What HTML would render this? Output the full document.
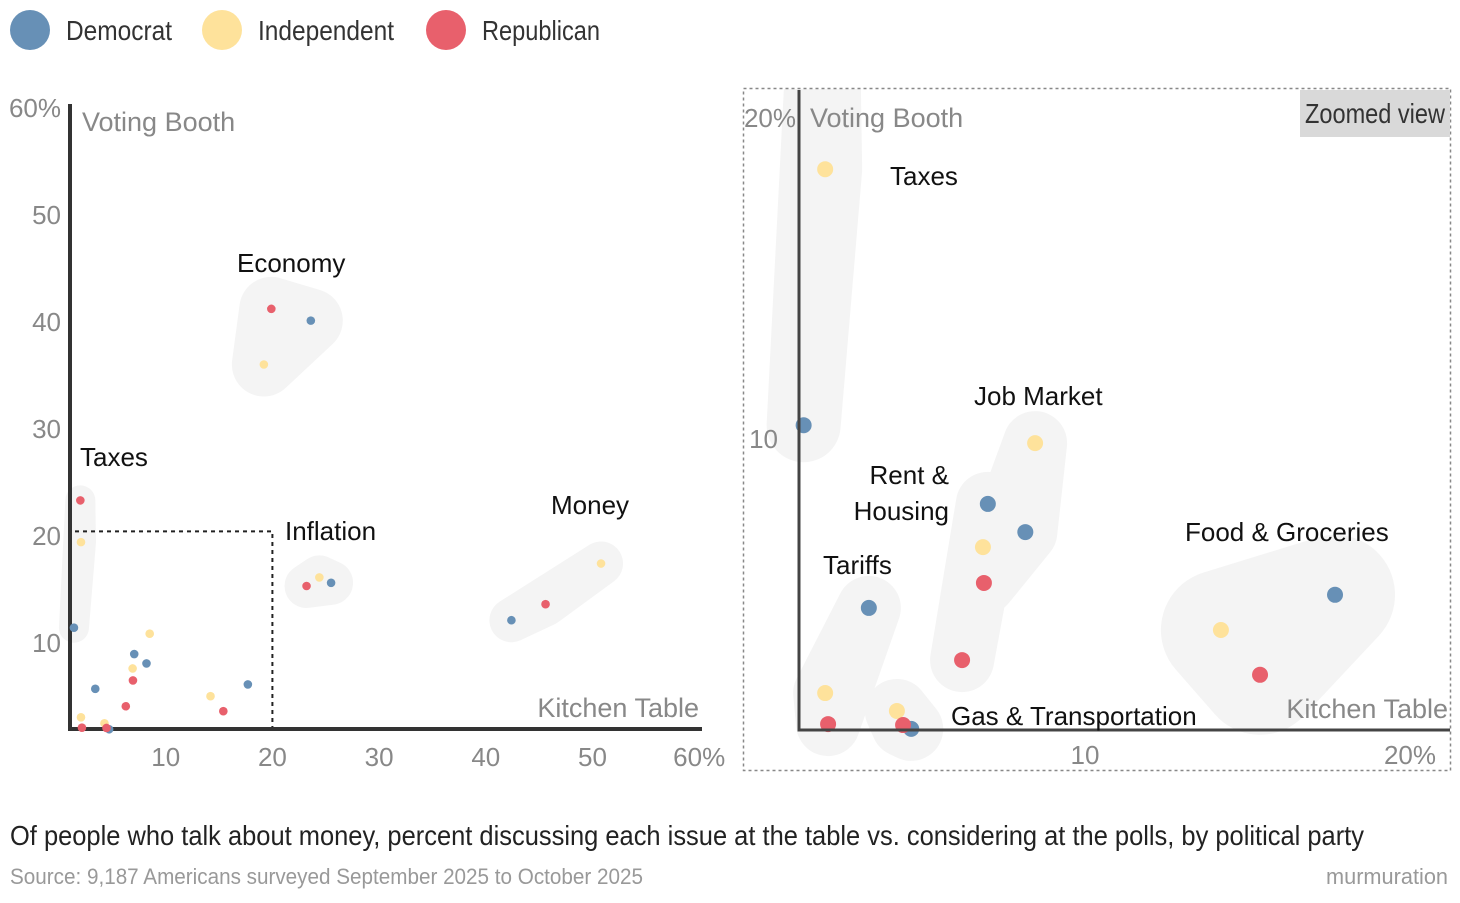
<!DOCTYPE html>
<html><head><meta charset="utf-8"><style>
html,body{margin:0;padding:0;background:#fff;}
svg{display:block;font-family:"Liberation Sans",sans-serif;}
</style></head><body>
<svg id="chart" width="1460" height="903" viewBox="0 0 1460 903">
<g id="legend">
  <circle cx="30" cy="30" r="20" fill="#6790b6"/>
  <text x="66" y="40" font-size="28" fill="#333" textLength="106" lengthAdjust="spacingAndGlyphs">Democrat</text>
  <circle cx="222" cy="30" r="20" fill="#fee29b"/>
  <text x="258" y="40" font-size="28" fill="#333" textLength="136" lengthAdjust="spacingAndGlyphs">Independent</text>
  <circle cx="446" cy="30" r="20" fill="#e8606c"/>
  <text x="482" y="40" font-size="28" fill="#333" textLength="118" lengthAdjust="spacingAndGlyphs">Republican</text>
</g>
<g id="left"></g>
<g id="right"></g>
<text x="10" y="845" font-size="28" fill="#222" textLength="1354" lengthAdjust="spacingAndGlyphs">Of people who talk about money, percent discussing each issue at the table vs. considering at the polls, by political party</text>
<text x="10" y="884" font-size="22" fill="#999" textLength="633" lengthAdjust="spacingAndGlyphs">Source: 9,187 Americans surveyed September 2025 to October 2025</text>
<text x="1448" y="884" font-size="22" fill="#999" text-anchor="end" textLength="122" lengthAdjust="spacingAndGlyphs">murmuration</text>
</svg>
<script>
const NS="http://www.w3.org/2000/svg";
const parties=["Democrat","Independent","Republican"];
const colors=["#6790b6","#fee29b","#e8606c"];
const issues=["Taxes","Economy","Inflation","Money","Job Market","Rent & Housing","Tariffs","Gas & Transportation","Food & Groceries"];
// x = kitchen table %, y = voting booth %, order Dem, Ind, Rep
const tableDem=[1.4,23.6,25.5,42.4,8.2,7.05,3.4,4.7,17.7];
const tableInd=[2.06,19.2,24.4,50.8,8.5,6.9,2.06,4.26,14.2];
const tableRep=[2.0,19.9,23.2,45.6,6.93,6.26,2.15,4.45,15.4];
const boothDem=[10.4,39.1,14.6,11.1,7.06,7.94,4.69,0.91,5.1];
const boothInd=[18.4,35.0,15.1,16.4,9.84,6.59,2.03,1.47,4.0];
const boothRep=[22.3,40.2,14.3,12.6,5.47,3.06,1.06,1.03,2.6];
const leftTicksX=["10","20","30","40","50","60%"];
const leftTicksY=["10","20","30","40","50","60%"];
const rightTicksX=["10","20%"];
const rightTicksY=["10","20%"];

function mk(tag,attrs,parent){const e=document.createElementNS(NS,tag);for(const k in attrs)e.setAttribute(k,attrs[k]);parent.appendChild(e);return e;}
const xs=[tableDem,tableInd,tableRep], ys=[boothDem,boothInd,boothRep];
function slug(s){return s.toLowerCase().replace(/&/g,'and').replace(/[^a-z0-9]+/g,'-');}

// LEFT
const L=document.getElementById('left');
const lx=v=>59+v*10.67, ly=v=>739-v*10.7;
const leftLabels={Taxes:[80,466,'start'],Economy:[237,272,'start'],Inflation:[285,540,'start'],Money:[551,514,'start']};
const leftIssues=["Taxes","Economy","Inflation","Money"];
issues.forEach((iss,i)=>{
  const pts=[0,1,2].map(p=>[lx(xs[p][i]),ly(ys[p][i])]);
  if(leftIssues.includes(iss)){
    const b=mk('polygon',{points:pts.map(p=>p.join(',')).join(' '),fill:'#f4f4f4',stroke:'#f4f4f4','stroke-width':iss==='Economy'?64:(iss==='Taxes'?30:44),'stroke-linejoin':'round'},L);
    
    
  }
});
const dash=mk('path',{d:`M${lx(1.5)},${ly(19.4)} H${lx(20)} V729`,fill:'none',stroke:'#222','stroke-width':2,'stroke-dasharray':'4,4'},L);


const la=mk('path',{d:'M70,104 V729 H702',fill:'none',stroke:'#333','stroke-width':4},L);


leftTicksX.forEach((t,i)=>{const v=(i+1)*10;const e=mk('text',{x:lx(v),y:766,'font-size':26,fill:'#888','text-anchor':'middle'},L);e.textContent=t;
  });
leftTicksY.forEach((t,i)=>{const v=(i+1)*10;const e=mk('text',{x:61,y:ly(v)+20,'font-size':26,fill:'#888','text-anchor':'end'},L);e.textContent=t;
  });
let e=mk('text',{x:82,y:131,'font-size':27,fill:'#888'},L);e.textContent='Voting Booth';

e=mk('text',{x:699,y:717,'font-size':27,fill:'#888','text-anchor':'end'},L);e.textContent='Kitchen Table';

issues.forEach((iss,i)=>{[0,1,2].forEach(p=>{const c=mk('circle',{cx:lx(xs[p][i]),cy:ly(ys[p][i]),r:4.3,fill:colors[p]},L);
  });});
leftIssues.forEach(iss=>{const a=leftLabels[iss];const t=mk('text',{x:a[0],y:a[1],'font-size':26,fill:'#111'},L);t.textContent=iss;
  });

// RIGHT
const R=document.getElementById('right');
const rx=v=>758+v*32.6, ry=v=>758-v*32;
mk('defs',{},R).innerHTML='<clipPath id="rc"><rect x="744" y="89" width="706" height="681"/></clipPath>';
const RG=mk('g',{'clip-path':'url(#rc)'},R);
const rightIssues=["Taxes","Job Market","Rent & Housing","Tariffs","Gas & Transportation","Food & Groceries"];
rightIssues.forEach(iss=>{const i=issues.indexOf(iss);
  const pts=[0,1,2].map(p=>[rx(xs[p][i]),ry(ys[p][i])]);
  const b=mk('polygon',{points:pts.map(p=>p.join(',')).join(' '),fill:'#f4f4f4',stroke:'#f4f4f4','stroke-width':iss==='Food & Groceries'?120:(iss==='Taxes'?74:64),'stroke-linejoin':'round'},RG);
  });
const box=mk('rect',{x:743.5,y:88.5,width:707,height:682,fill:'none',stroke:'#888','stroke-width':1.5,'stroke-dasharray':'3,3'},R);

const ra=mk('path',{d:'M799,90 V730 H1450',fill:'none',stroke:'#444','stroke-width':3},R);

rightTicksX.forEach((t,i)=>{const v=(i+1)*10;const x=mk('text',{x:t.includes('%')?1410:rx(v)+1,y:764,'font-size':26,fill:'#888','text-anchor':'middle'},R);x.textContent=t;
  });
rightTicksY.forEach((t,i)=>{const v=(i+1)*10;const x=mk('text',{x:t.includes('%')?796:778,y:ry(v)+(i?9:10),'font-size':26,fill:'#888','text-anchor':'end'},R);x.textContent=t;
  });
e=mk('text',{x:810,y:127,'font-size':27,fill:'#888'},R);e.textContent='Voting Booth';

e=mk('text',{x:1448,y:718,'font-size':27,fill:'#888','text-anchor':'end'},R);e.textContent='Kitchen Table';

const zb=mk('rect',{x:1300,y:90,width:150,height:47,fill:'#d9d9d9'},R);

e=mk('text',{x:1375,y:123,'font-size':28,fill:'#333','text-anchor':'middle',textLength:140,lengthAdjust:'spacingAndGlyphs'},R);e.textContent='Zoomed view';

rightIssues.forEach(iss=>{const i=issues.indexOf(iss);[0,1,2].forEach(p=>{const c=mk('circle',{cx:rx(xs[p][i]),cy:ry(ys[p][i]),r:8,fill:colors[p]},RG);
  });});
const rl=[["Taxes",890,185,"start"],["Job Market",974,405,"start"],["Rent &",949,484,"end"],["Housing",949,520,"end"],["Tariffs",823,574,"start"],["Gas & Transportation",951,725,"start"],["Food & Groceries",1185,541,"start"]];
rl.forEach(a=>{const t=mk('text',{x:a[1],y:a[2],'font-size':26,fill:'#111','text-anchor':a[3]},R);t.textContent=a[0];
  });
</script>
</body></html>
